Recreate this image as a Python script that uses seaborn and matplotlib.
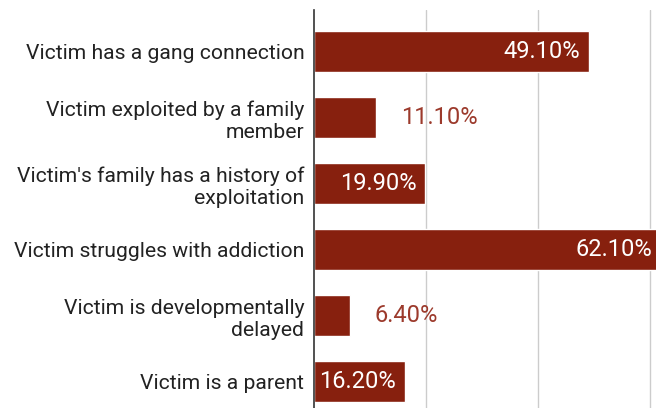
import pandas as pd
import seaborn as sns
import matplotlib.pyplot as plt

# data
factors = ['Victim has a gang connection',
           'Victim exploited by a family\nmember',
           "Victim's family has a history of\nexploitation",
           'Victim struggles with addiction',
           'Victim is developmentally\ndelayed',
           'Victim is a parent']
percent = [49.1, 11.1, 19.9, 62.1, 6.4, 16.2]

df = pd.DataFrame({'Factor': factors, 'Percent': percent})

bar_color = '#87200e'

sns.set_style('white')
plt.rcParams['font.family'] = ['Roboto', 'DejaVu Sans']

fig = plt.figure(figsize=(6.56, 4.08), dpi=100)
ax = fig.add_axes([314 / 656, 0, 342 / 656, 398 / 408])

sns.barplot(data=df, x='Percent', y='Factor', color=bar_color, width=0.62,
            saturation=1, ax=ax, zorder=3)

ax.set_xlim(0, 342 / 5.6)
ax.set_ylim(5.4, -0.63)
ax.set_xticks([20, 40, 60])
ax.set_xticklabels([])
ax.tick_params(axis='x', length=0)
ax.tick_params(axis='y', length=0, pad=7, labelsize=15.2, labelcolor='#222222')
ax.grid(axis='x', color='#cccccc', linewidth=1, zorder=0)
ax.set_xlabel('')
ax.set_ylabel('')
for s in ['top', 'right', 'bottom']:
    ax.spines[s].set_visible(False)
ax.spines['left'].set_color('#333333')
ax.spines['left'].set_linewidth(1.2)
ax.spines['left'].set_zorder(4)

# value labels: inside for long bars, outside for short ones
for i, v in enumerate(percent):
    label = f'{v:.2f}%'
    if v > 15:
        ax.annotate(label, (v, i), xytext=(-6.5, 0),
                    textcoords='offset points', ha='right', va='center',
                    color='white', fontsize=17, zorder=5,
                    annotation_clip=False)
    else:
        ax.annotate(label, (v, i), xytext=(18, 0),
                    textcoords='offset points', ha='left', va='center',
                    color='#9c3a2c', fontsize=17, zorder=5)

plt.savefig('out.png', dpi=100)
